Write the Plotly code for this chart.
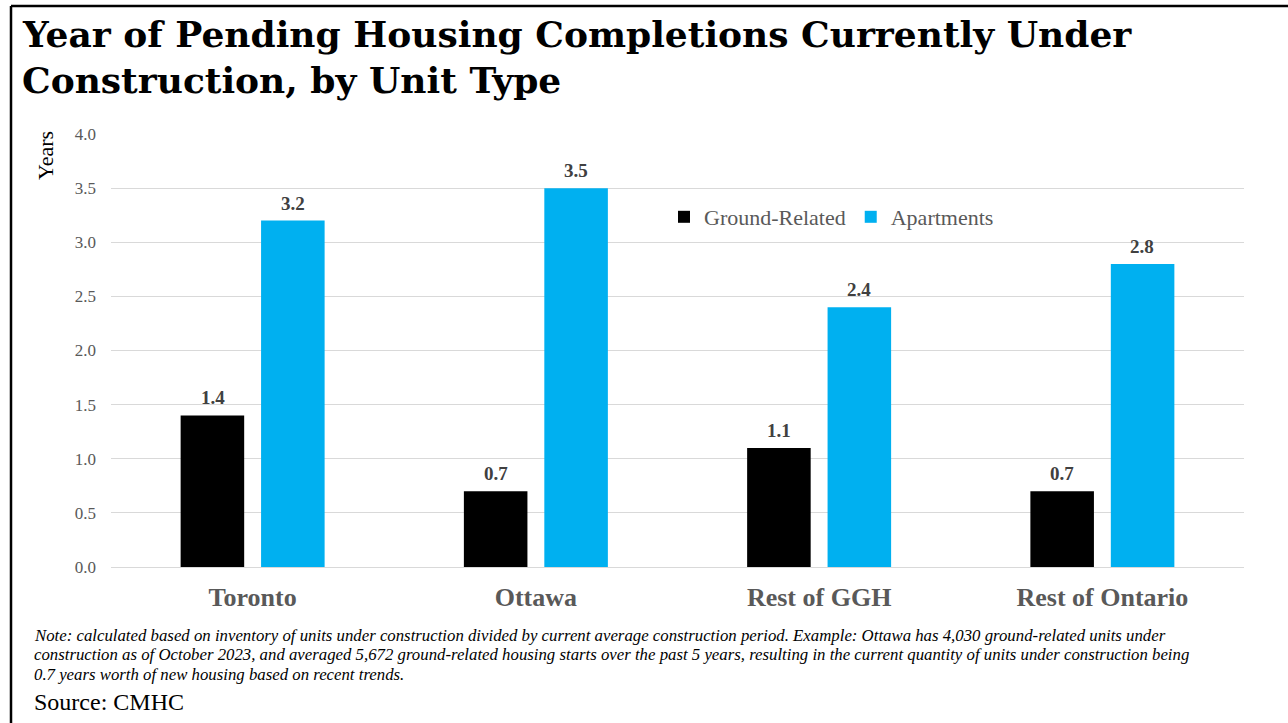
import plotly.graph_objects as go

# Data
regions = ["Toronto", "Ottawa", "Rest of GGH", "Rest of Ontario"]
ground_related = [1.4, 0.7, 1.1, 0.7]
apartments = [3.2, 3.5, 2.4, 2.8]
y_ticks = [0.0, 0.5, 1.0, 1.5, 2.0, 2.5, 3.0, 3.5, 4.0]

title_lines = [
    "Year of Pending Housing Completions Currently Under",
    "Construction, by Unit Type",
]
note_lines = [
    "Note: calculated based on inventory of units under construction divided by current average "
    "construction period. Example: Ottawa has 4,030 ground-related units under",
    "construction as of October 2023, and averaged 5,672 ground-related housing starts over the "
    "past 5 years, resulting in the current quantity of units under construction being",
    "0.7 years worth of new housing based on recent trends.",
]
source_text = "Source: CMHC"

# Page geometry (pixels)
WIDTH, HEIGHT = 1288, 723
L, R, T, B = 111, 1244, 134, 567
PW, PH = R - L, B - T


def px_x(x):
    return (x - L) / PW


def px_y(y):
    return (B - y) / PH


SERIF = "Liberation Serif, Times New Roman, serif"
TITLE_SERIF = "DejaVu Serif, Liberation Serif, serif"
BLACK = "#000000"
BLUE = "#00B0F0"
GREY_TXT = "#595959"
LABEL_TXT = "#404040"

fig = go.Figure()
fig.add_trace(go.Bar(name="Ground-Related", x=regions, y=ground_related,
                     marker=dict(color=BLACK, line=dict(width=0))))
fig.add_trace(go.Bar(name="Apartments", x=regions, y=apartments,
                     marker=dict(color=BLUE, line=dict(width=0))))

annotations = []
# Value labels above each bar
for series, shift in ((ground_related, -40), (apartments, 40)):
    for reg, val in zip(regions, series):
        annotations.append(dict(
            x=reg, y=val, xref="x", yref="y", xshift=shift, yshift=5,
            text=f"<b>{val:.1f}</b>", showarrow=False, yanchor="bottom",
            font=dict(family=SERIF, size=19, color=LABEL_TXT)))

# Title
for i, line in enumerate(title_lines):
    annotations.append(dict(
        x=px_x(20), y=px_y(34 + 46 * i), xref="paper", yref="paper",
        xanchor="left", yanchor="middle", showarrow=False,
        text=f"<b>{line}</b>", font=dict(family=TITLE_SERIF, size=36, color=BLACK)))

# Axis title
annotations.append(dict(
    x=px_x(46), y=px_y(156), xref="paper", yref="paper", textangle=-90,
    xanchor="center", yanchor="middle", showarrow=False, text="Years",
    font=dict(family=SERIF, size=22, color=BLACK)))

# Footnote and source
for i, line in enumerate(note_lines):
    annotations.append(dict(
        x=px_x(32), y=px_y(635 + 19.5 * i), xref="paper", yref="paper",
        xanchor="left", yanchor="middle", showarrow=False,
        text=f"<i>{line}</i>", font=dict(family=SERIF, size=16.8, color=BLACK)))
annotations.append(dict(
    x=px_x(32), y=px_y(702), xref="paper", yref="paper", xanchor="left",
    yanchor="middle", showarrow=False, text=source_text,
    font=dict(family=SERIF, size=24, color=BLACK)))

# Frame lines along top and left edge
shapes = [
    dict(type="line", xref="paper", yref="paper", x0=px_x(11), x1=px_x(1290),
         y0=px_y(6), y1=px_y(6), line=dict(color=BLACK, width=2.5)),
    dict(type="line", xref="paper", yref="paper", x0=px_x(11), x1=px_x(11),
         y0=px_y(6), y1=px_y(725), line=dict(color=BLACK, width=2.5)),
]

fig.update_layout(
    width=WIDTH, height=HEIGHT,
    margin=dict(l=L, r=WIDTH - R, t=T, b=HEIGHT - B, pad=0),
    paper_bgcolor="white", plot_bgcolor="white",
    barmode="group", bargap=0.432, bargroupgap=0.21,
    showlegend=True,
    legend=dict(orientation="h", x=px_x(664), y=px_y(217), xanchor="left",
                yanchor="middle", bgcolor="rgba(0,0,0,0)",
                font=dict(family=SERIF, size=22, color=GREY_TXT),
                itemwidth=30, traceorder="normal"),
    annotations=annotations, shapes=shapes,
    font=dict(family=SERIF),
)

fig.update_yaxes(
    range=[0, 4.0], tickvals=y_ticks, tickformat=".1f",
    showgrid=True, gridcolor="#D9D9D9", gridwidth=1,
    zeroline=True, zerolinecolor="#D9D9D9", zerolinewidth=1,
    showline=False, ticks="", ticklabelstandoff=14,
    tickfont=dict(family=SERIF, size=17, color=GREY_TXT),
)
fig.update_xaxes(
    showgrid=False, showline=False, ticks="", ticklabelstandoff=12,
    tickfont=dict(family=SERIF, size=26, color=GREY_TXT),
    tickprefix="<b>", ticksuffix="</b>",
)

fig.write_html("out.html")
